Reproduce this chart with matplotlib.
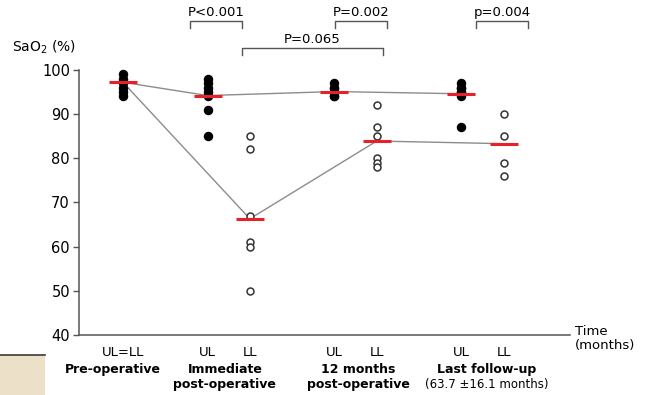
import matplotlib
matplotlib.use("Agg")
import matplotlib.pyplot as plt
from matplotlib.patches import Rectangle

plt.rcParams['font.family'] = ['DejaVu Sans']

# -----------------------------
# Data
# -----------------------------
x_pos = [0, 2, 3, 5, 6, 8, 9]
tick_labels = ['UL=LL', 'UL', 'LL', 'UL', 'LL', 'UL', 'LL']

pre_op = [99, 98, 97, 96, 95, 94]
imm_ul = [98, 97, 96, 95, 94, 91, 85]
imm_ll = [85, 82, 67, 61, 60, 50]
m12_ul = [97, 96, 96, 95, 94, 94]
m12_ll = [92, 87, 85, 80, 79, 78]
last_ul = [97, 96, 96, 95, 95, 94, 87]
last_ll = [90, 85, 79, 76]

ul_x = [0, 2, 5, 8]
ul_mean = [97.2, 94.2, 95.1, 94.6]
ll_x = [0, 3, 6, 9]
ll_mean = [97.2, 66.3, 83.9, 83.3]

group_line1 = ['Pre-operative', 'Immediate', '12 months', 'Last follow-up']
group_line2 = ['', 'post-operative', 'post-operative', '(63.7 \u00b116.1 months)']
group_x = [-0.24, 2.41, 5.56, 8.6]

brackets = [(1.58, 2.81, 'P<0.001', 0), (5.01, 6.24, 'P=0.002', 0),
            (8.35, 9.57, 'p=0.004', 0), (2.81, 6.15, 'P=0.065', 1)]

# -----------------------------
# Figure
# -----------------------------
fig = plt.figure(figsize=(6.5, 3.95), dpi=100)
ax = fig.add_axes([0.1215, 0.152, 0.7555, 0.671])

# gray lines joining the means
ax.plot(ul_x, ul_mean, color='#8c8c8c', lw=1.0, zorder=1)
ax.plot(ll_x, ll_mean, color='#8c8c8c', lw=1.0, zorder=1)

filled = [(0, pre_op), (2, imm_ul), (5, m12_ul), (8, last_ul)]
hollow = [(3, imm_ll), (6, m12_ll), (9, last_ll)]
for xv, vals in filled:
    ax.plot([xv] * len(vals), vals, 'o', color='black', ms=5.8, clip_on=False, zorder=2)
for xv, vals in hollow:
    ax.plot([xv] * len(vals), vals, 'o', mfc='white', mec='#333333', mew=1.1, ms=5,
            clip_on=False, zorder=2)

# red mean bars
for xv, m in zip(ul_x + ll_x[1:], ul_mean + ll_mean[1:]):
    ax.plot([xv - 0.33, xv + 0.33], [m, m], color='#e8202a', lw=2.2, zorder=3,
            solid_capstyle='butt')

ax.set_xlim(-1.04, 10.57)
ax.set_ylim(40, 100)
ax.set_yticks(range(40, 101, 10))
ax.set_xticks(x_pos)
ax.set_xticklabels(tick_labels, fontsize=9.5)
ax.tick_params(axis='x', length=0, pad=8)
ax.tick_params(axis='y', length=4.5, width=1, pad=2, labelsize=10.5, color='#555555')
for s in ['top', 'right']:
    ax.spines[s].set_visible(False)
for s in ['left', 'bottom']:
    ax.spines[s].set_color('#555555')
    ax.spines[s].set_linewidth(1.1)

# significance brackets
for x0, x1, label, level in brackets:
    top = 111.1 if level == 0 else 105.0
    ax.plot([x0, x0, x1, x1], [top - 1.6, top, top, top - 1.6], color='#555555', lw=1.0,
            clip_on=False)
    ax.text((x0 + x1) / 2, top + 1.9, label, ha='center', va='center', fontsize=9.5)

ax.text(-2.62, 105.2, 'SaO$_2$ (%)', ha='left', va='center', fontsize=10)
ax.text(10.69, 39.2, 'Time\n(months)', ha='left', va='center', fontsize=9.5, linespacing=1.1)

# group labels under the axis
for gx, g1, g2 in zip(group_x, group_line1, group_line2):
    ax.text(gx, 32.1, g1, ha='center', va='center', fontsize=9, fontweight='bold')
    if g2.startswith('('):
        ax.text(gx, 28.7, g2, ha='center', va='center', fontsize=8.5)
    elif g2:
        ax.text(gx, 28.7, g2, ha='center', va='center', fontsize=9, fontweight='bold')

# beige artefact in the lower left corner
fig.patches.append(Rectangle((0, 0), 45 / 650, 40 / 395, transform=fig.transFigure,
                             facecolor='#ece1c8', edgecolor='none'))
fig.lines.append(plt.Line2D([0, 45 / 650], [40 / 395, 40 / 395], transform=fig.transFigure,
                            color='#3a3a3a', lw=1.2))

fig.savefig('out.png', dpi=100)
